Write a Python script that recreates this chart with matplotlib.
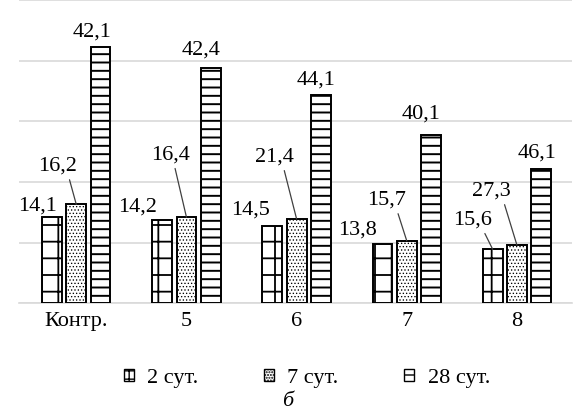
import matplotlib
matplotlib.use("Agg")
import matplotlib.pyplot as plt
from matplotlib.patches import Patch
import numpy as np

plt.rcParams['font.family'] = ['Liberation Serif', 'DejaVu Serif']

categories = ["Контр.", "5", "6", "7", "8"]
series_names = ["2 сут.", "7 сут.", "28 сут."]
# bar heights as drawn (grid step = 10)
heights_2 = [14.2, 13.7, 12.8, 9.7, 8.9]
heights_7 = [16.3, 14.2, 13.9, 10.3, 9.6]
heights_28 = [42.2, 38.8, 34.3, 27.7, 22.1]
# data labels as printed
labels_2 = ["14,1", "14,2", "14,5", "13,8", "15,6"]
labels_7 = ["16,2", "16,4", "21,4", "15,7", "27,3"]
labels_28 = ["42,1", "42,4", "44,1", "40,1", "46,1"]

# label offsets (pixels) from bar top centre
off_2 = [(-14.7, 11.3), (-24.7, 13.3), (-21.7, 15.2), (-25, 14.3), (-20.3, 29.3)]
off_7 = [(-18.8, 38.3), (-16.2, 62.3), (-22.3, 62), (-20.5, 40.7), (-26, 54)]
off_28 = [(-8.8, 15.3), (-10, 18), (-5, 15.3), (-9.8, 21.3), (-3.8, 16)]
leader_2 = [False, False, False, False, True]
leader_7 = [True, True, True, True, True]
relpos_7 = [0.78, 0.6, 0.73, 0.77, 0.82]

FS = 16

fig = plt.figure(figsize=(5.73, 4.15), dpi=100)
ax = fig.add_axes([19/573, 1-303.3/415, (572-19)/573, 303.3/415])

x = np.arange(len(categories))
w = 0.18
step = 0.22
hatches = ['+', '.....', '--']
hlw = [1.3, 0.55, 1.4]
all_h = [heights_2, heights_7, heights_28]
all_l = [labels_2, labels_7, labels_28]
all_off = [off_2, off_7, off_28]

for i in range(3):
    with plt.rc_context({'hatch.linewidth': hlw[i]}):
        bars = ax.bar(x + (i - 1) * step, all_h[i], width=w, facecolor='white',
                      edgecolor='black', linewidth=1.4, hatch=hatches[i], zorder=3)
        for b in bars:
            try:
                b.set_hatch_linewidth(hlw[i])
            except AttributeError:
                pass
    for j, b in enumerate(bars):
        bx = b.get_x() + b.get_width() / 2
        by = b.get_height()
        dx, dy = all_off[i][j]
        lead = (i == 1 and leader_7[j]) or (i == 0 and leader_2[j])
        kw = {}
        if lead:
            rp = relpos_7[j] if i == 1 else 0.77
            kw['arrowprops'] = dict(arrowstyle='-', color='#404040', lw=0.9,
                                    relpos=(rp, 0.0), shrinkA=1, shrinkB=0)
        ax.annotate(all_l[i][j], xy=(bx, by), xytext=(dx, dy),
                    textcoords='offset pixels', ha='center', va='center',
                    fontsize=FS, color='black', zorder=4, **kw)

ax.set_xlim(-0.52, 4.5)
ax.set_ylim(0, 50)
ax.set_yticks([0, 10, 20, 30, 40, 50])
ax.yaxis.grid(True, color='#d9d9d9', linewidth=1.2, zorder=0)
ax.set_axisbelow(True)
ax.tick_params(axis='y', left=False, labelleft=False)
ax.tick_params(axis='x', length=0, pad=6, labelsize=FS)
ax.set_xticks(x)
ax.set_xticklabels(categories)
for s in ['top', 'right', 'left']:
    ax.spines[s].set_visible(False)
ax.spines['bottom'].set_color('#d9d9d9')
ax.spines['bottom'].set_linewidth(1.2)
ax.set_facecolor('none')

handles = []
for i in range(3):
    with plt.rc_context({'hatch.linewidth': 1.0}):
        p = Patch(facecolor='white', edgecolor='black', linewidth=1.0,
                  hatch=['++', '......', '-'][i])
        try:
            p.set_hatch_linewidth(1.0)
        except AttributeError:
            pass
    handles.append(p)
fig.legend(handles, series_names, loc='center', bbox_to_anchor=(307/573, 1-378/415),
           ncol=3, frameon=False, fontsize=FS, handlelength=0.45, handleheight=0.45,
           handletextpad=0.6, columnspacing=2.95)

fig.text(288/573, 1-401/415, "б", ha='center', va='center', fontsize=FS,
         style='italic')

fig.savefig("out.png", dpi=100)
